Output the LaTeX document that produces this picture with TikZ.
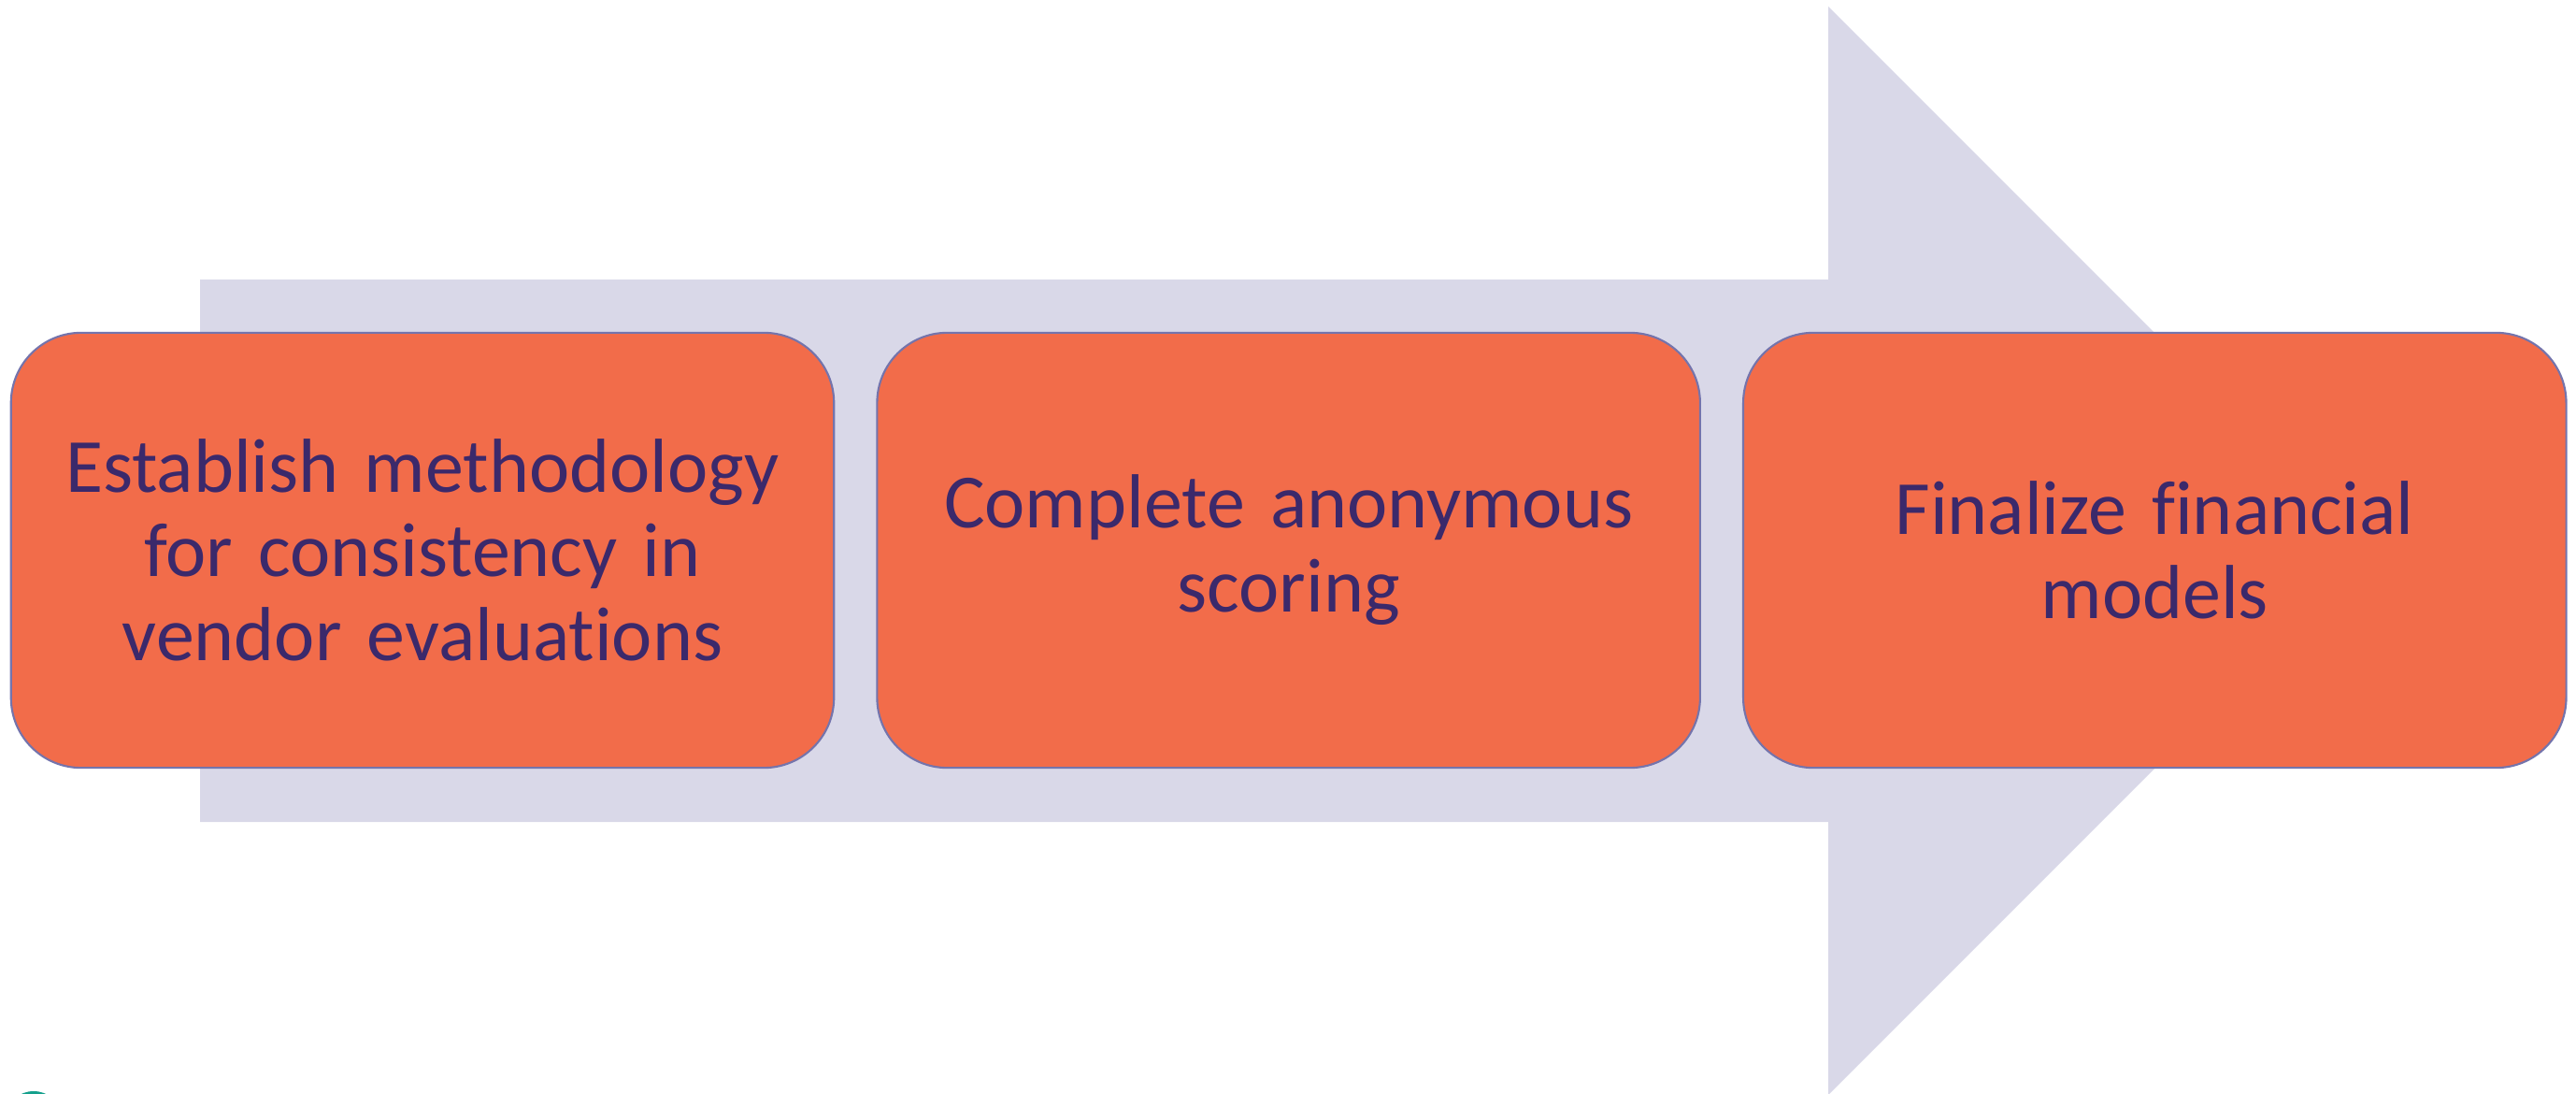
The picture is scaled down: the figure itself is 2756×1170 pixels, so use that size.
\documentclass[tikz,border=0pt]{standalone}
\usepackage{fontspec}
\setmainfont{Carlito}[Ligatures=NoCommon]
\usetikzlibrary{positioning}
\definecolor{arrowgrey}{RGB}{217,216,232}
\definecolor{boxfill}{RGB}{242,108,74}
\definecolor{boxline}{RGB}{116,116,172}
\definecolor{boxtext}{RGB}{59,41,107}
\definecolor{tealpart}{RGB}{20,160,140}
\begin{document}
\begin{tikzpicture}[x=0.01cm,y=-0.01cm,
    stepbox/.style={draw=boxline,line width=0.6pt,fill=boxfill,rounded corners=0.75cm,
        minimum width=8.8cm,minimum height=4.65cm,text width=8.4cm,align=center,
        text=boxtext,inner sep=0pt,
        font=\fontsize{23.3pt}{25.6pt}\selectfont}]
\useasboundingbox (0,0) rectangle (2756,1170);
\clip (0,0) rectangle (2756,1170);
% big arrow behind the steps
\fill[arrowgrey] (214,299) -- (1956,299) -- (1956,7) -- (2538,589) -- (1956,1171)
    -- (1956,879) -- (214,879) -- cycle;
% piece of a shape below the page edge
\fill[tealpart] (36,1192) ellipse [x radius=28, y radius=25];
% steps
\node[stepbox] (methodology) at (452,588.5) {Establish methodology\\for consistency in\\vendor evaluations};
\node[stepbox,right=0.44cm of methodology] (scoring) {Complete anonymous\\scoring};
\node[stepbox,right=0.44cm of scoring] (financial) {Finalize financial\\models};
\end{tikzpicture}
\end{document}
